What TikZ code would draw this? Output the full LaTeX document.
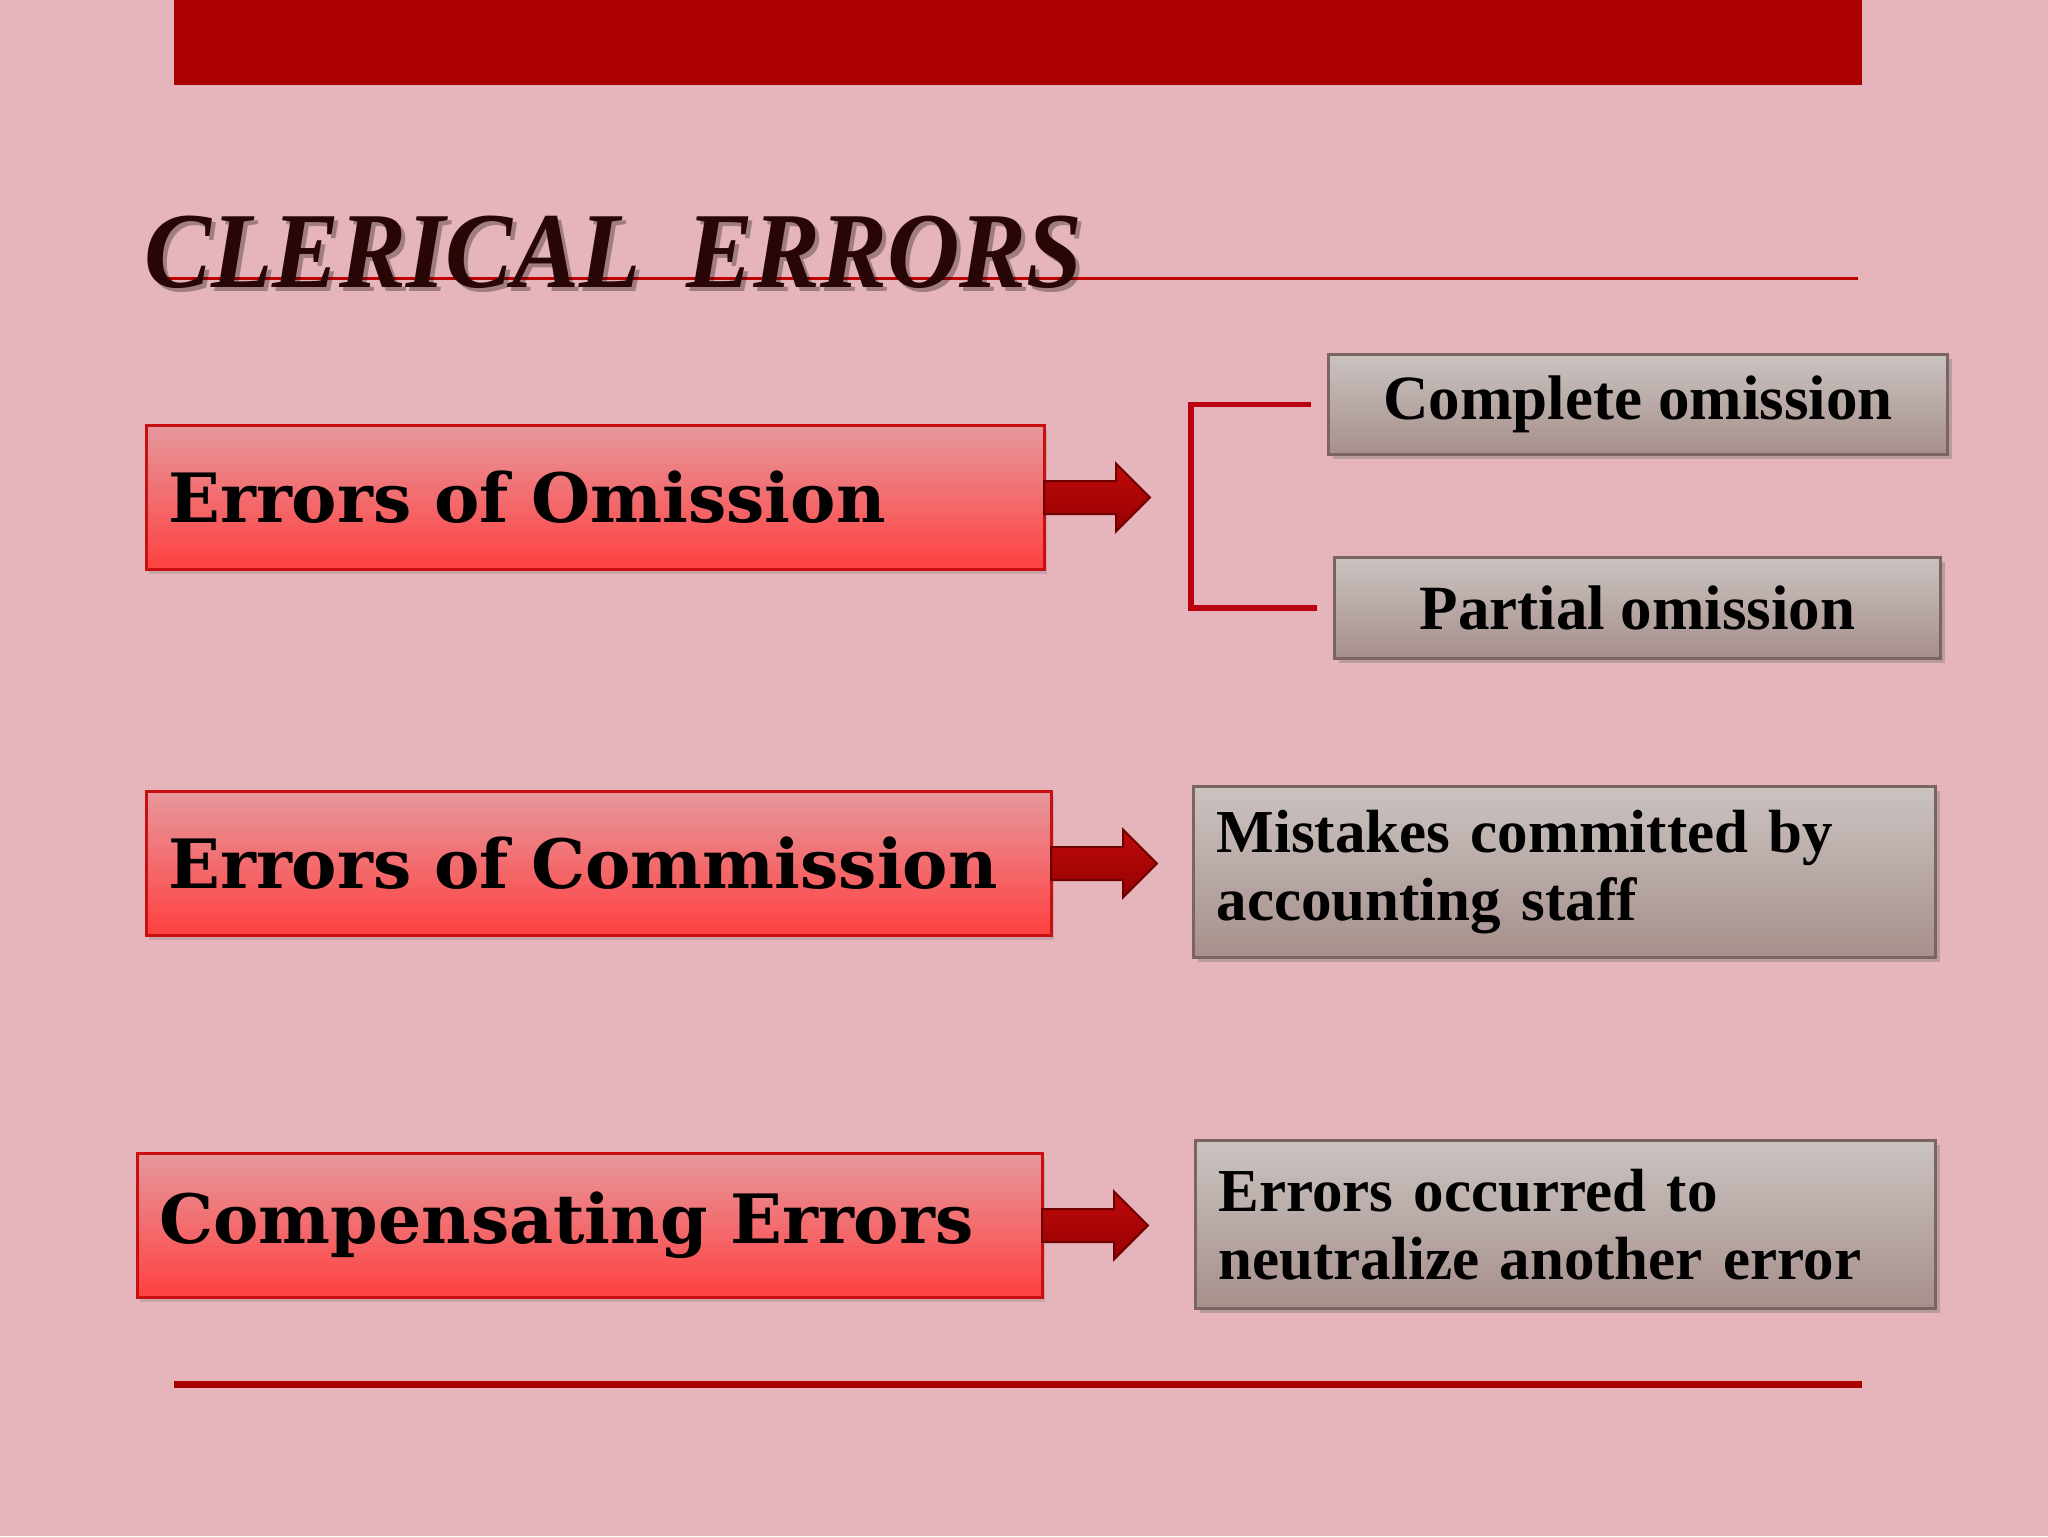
\documentclass[tikz,border=0pt]{standalone}
\usepackage{fontspec}
\setmainfont{Liberation Serif}
\newfontfamily\redfont{DejaVu Serif}
\usetikzlibrary{shadows,calc}
\definecolor{bg}{RGB}{230,180,187}
\definecolor{barred}{RGB}{170,0,0}
\definecolor{linered}{RGB}{190,0,0}
\definecolor{brred}{RGB}{185,0,12}
\definecolor{rtop}{RGB}{230,152,157}
\definecolor{rbot}{RGB}{255,64,64}
\definecolor{rborder}{RGB}{200,16,16}
\definecolor{gtop}{RGB}{202,195,192}
\definecolor{gbot}{RGB}{166,143,139}
\definecolor{gborder}{RGB}{125,100,100}
\definecolor{titlecol}{RGB}{40,6,6}
\definecolor{arrtop}{RGB}{190,10,10}
\definecolor{arrbot}{RGB}{150,0,0}
\definecolor{arrline}{RGB}{110,0,0}
\begin{document}
\begin{tikzpicture}[x=0.5pt,y=-0.5pt,
  redbox/.style={draw=rborder, line width=1.5pt, top color=rtop, bottom color=rbot,
    minimum height=72pt, inner xsep=11pt, inner ysep=0pt, align=left, anchor=north west,
    font=\redfont\bfseries\fontsize{34}{40}\selectfont,
    drop shadow={shadow xshift=1pt, shadow yshift=-2pt, opacity=0.3}},
  graybox/.style={draw=gborder, line width=1.5pt, top color=gtop, bottom color=gbot,
    anchor=north west, inner ysep=0pt, text=black,
    font=\bfseries\fontsize{31.5}{34}\selectfont,
    drop shadow={shadow xshift=2pt, shadow yshift=-2pt, opacity=0.45}},
  grayfont/.style={font=\bfseries\fontsize{30.5}{34}\selectfont},
  bracket/.style={draw=brred, line width=2.6pt},
  barrow/.pic={\draw[draw=arrline, line width=1pt, top color=arrtop, bottom color=arrbot]
     (-2,-16.5) -- (70,-16.5) -- (70,-34) -- (104,0) -- (70,34) -- (70,16.5) -- (-2,16.5) -- cycle;}
]
\useasboundingbox (0,0) rectangle (2048,1536);
\fill[bg] (0,0) rectangle (2048,1536);
% top bar and rules
\fill[barred] (174,0) rectangle (1862,85);
\coordinate (tl1) at (168,278);
\coordinate (tl2) at (1858,278);
\draw[linered, line width=1.5pt] (tl1) -- (tl2);
\coordinate (bl1) at (174,1384);
\coordinate (bl2) at (1862,1384);
\draw[barred, line width=3.5pt] (bl1) -- (bl2);
% title
\node[anchor=base west, inner sep=0pt, text=black, opacity=0.3,
  font=\bfseries\itshape\fontsize{54}{60}\selectfont] (titleshadow) at (148,291)
  {\scalebox{0.93}[1]{CLERICAL\hspace{0.45em}ERRORS}};
\node[anchor=base west, inner sep=0pt, text=titlecol,
  font=\bfseries\itshape\fontsize{54}{60}\selectfont] (title) at (144,287)
  {\scalebox{0.93}[1]{CLERICAL\hspace{0.45em}ERRORS}};
% red boxes
\node[redbox, text width=427pt] (r1) at (145,424) {Errors of Omission};
\node[redbox, text width=430.5pt] (r2) at (145,790) {Errors of Commission};
\node[redbox, text width=430.5pt] (r3) at (136,1152) {Compensating Errors};
% gray boxes
\node[graybox, minimum width=309.5pt, minimum height=50pt] (c1) at (1327,353) {Complete omission};
\node[graybox, minimum width=303pt, minimum height=50.5pt] (c2) at (1333,556) {Partial omission};
\node[graybox, grayfont, text width=348pt, inner xsep=11.5pt, align=left, minimum height=85.5pt] (m1) at (1192,785)
  {Mistakes committed by\\accounting staff};
\node[graybox, grayfont, text width=347pt, inner xsep=11.5pt, align=left, minimum height=84pt] (n1) at (1194,1139)
  {Errors occurred to\\neutralize another error};
% block arrows
\pic at (r1.east) {barrow};
\pic at (r2.east) {barrow};
\pic at (r3.east) {barrow};
% bracket
\coordinate (bx) at (1191,0);
\draw[bracket] ($(c1.west)+(-16,0)$) -- (c1.west -| bx) |- ($(c2.west)+(-16,0)$);
\end{tikzpicture}
\end{document}
